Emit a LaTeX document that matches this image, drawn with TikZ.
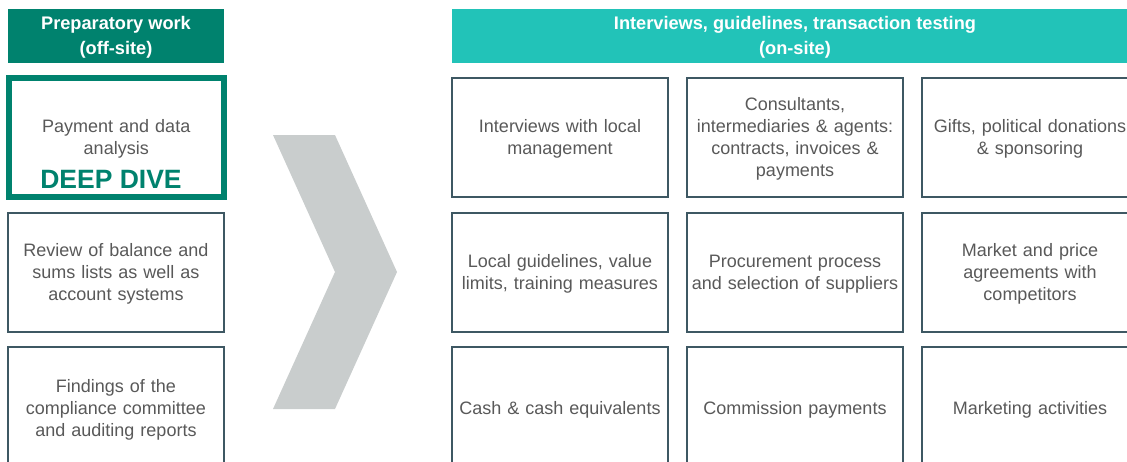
\documentclass[tikz,border=0pt]{standalone}
\usepackage{fontspec}
\setmainfont{Liberation Sans}
\definecolor{darkteal}{RGB}{0,130,110}
\definecolor{lightteal}{RGB}{34,195,184}
\definecolor{chev}{RGB}{201,205,205}
\definecolor{boxc}{RGB}{62,88,99}
\definecolor{txt}{RGB}{89,89,89}
\begin{document}
\begin{tikzpicture}[x=1pt,y=-1pt,
  box/.style={draw=boxc, line width=1.2pt, fill=white, minimum width=216pt, minimum height=119pt,
    inner sep=0pt},
  tallbox/.style={box, minimum height=122pt},
  boxtext/.style={inner sep=0pt, text=txt, align=center, text width=214pt,
    font=\fontsize{18}{22}\selectfont},
  header/.style={inner sep=0pt, minimum height=54pt},
  headtext/.style={inner sep=0pt, text=white, align=center,
    font=\bfseries\fontsize{18.2}{25}\selectfont}]
\useasboundingbox (0,0) rectangle (1127,461);
\clip (0,0) rectangle (1127,461);
% headers
\node[header, fill=darkteal, minimum width=216pt] (hl) at (116,36) {};
\node[headtext] (hlt) at ([yshift=-1.5pt]hl.center) {Preparatory work\\(off-site)};
\node[header, fill=lightteal, minimum width=686pt] (hr) at (795,36) {};
\node[headtext] (hrt) at ([yshift=-1.5pt]hr.center) {Interviews, guidelines, transaction testing\\(on-site)};
% left column
\node[box, draw=none, minimum width=210pt, minimum height=112pt] (l1) at (116.25,137.25) {};
\draw[darkteal, line width=6pt] (8.5,78) rectangle (224,196.5);
\node[boxtext] (l1t) at ([yshift=-1.5pt]l1.center) {Payment and data\\analysis};
\node[inner sep=0pt, text=darkteal, font=\bfseries\fontsize{26.5}{28}\selectfont] (dd) at (111,179.5) {DEEP DIVE};
\node[box] (l2) at (116,272.5) {};
\node[boxtext] (l2t) at ([yshift=-1.5pt]l2.center) {Review of balance and\\sums lists as well as\\account systems};
\node[tallbox] (l3) at (116,408) {};
\node[boxtext] (l3t) at ([yshift=-1.5pt]l3.center) {Findings of the\\compliance committee\\and auditing reports};
% chevron
\fill[chev] (273,135) -- (335,135) -- (397,272) -- (335,409) -- (273,409) -- (335,272) -- cycle;
% right grid
\node[box] (a1) at (560,137.5) {};
\node[boxtext] (a1t) at ([yshift=-1.5pt]a1.center) {Interviews with local\\management};
\node[box] (a2) at (795,137.5) {};
\node[boxtext] (a2t) at ([yshift=-1.5pt]a2.center) {Consultants,\\intermediaries \& agents:\\contracts, invoices \&\\payments};
\node[box] (a3) at (1030,137.5) {};
\node[boxtext] (a3t) at ([yshift=-1.5pt]a3.center) {Gifts, political donations\\\& sponsoring};
\node[box] (b1) at (560,272.5) {};
\node[boxtext] (b1t) at ([yshift=-1.5pt]b1.center) {Local guidelines, value\\limits, training measures};
\node[box] (b2) at (795,272.5) {};
\node[boxtext] (b2t) at ([yshift=-1.5pt]b2.center) {Procurement process\\and selection of suppliers};
\node[box] (b3) at (1030,272.5) {};
\node[boxtext] (b3t) at ([yshift=-1.5pt]b3.center) {Market and price\\agreements with\\competitors};
\node[tallbox] (c1) at (560,408) {};
\node[boxtext] (c1t) at ([yshift=-1.5pt]c1.center) {Cash \& cash equivalents};
\node[tallbox] (c2) at (795,408) {};
\node[boxtext] (c2t) at ([yshift=-1.5pt]c2.center) {Commission payments};
\node[tallbox] (c3) at (1030,408) {};
\node[boxtext] (c3t) at ([yshift=-1.5pt]c3.center) {Marketing activities};
\end{tikzpicture}
\end{document}
